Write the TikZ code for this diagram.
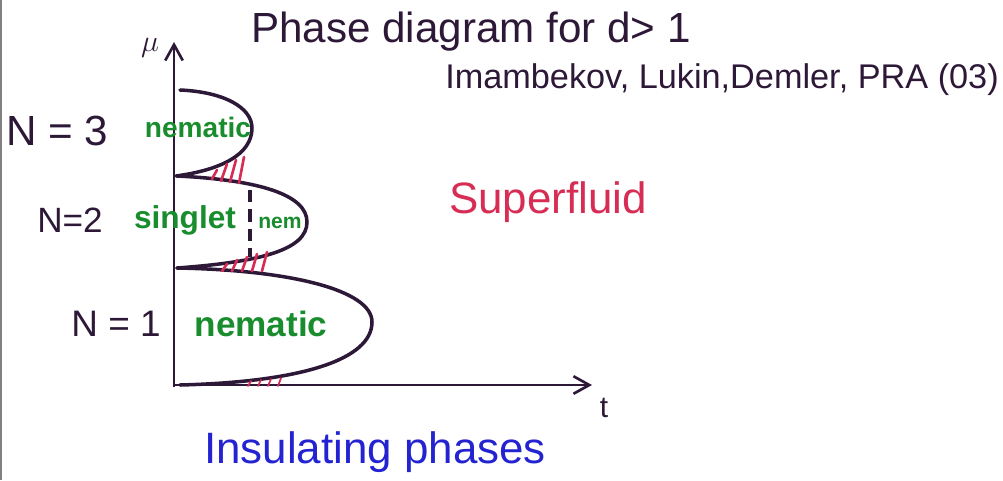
\documentclass[tikz,border=0pt]{standalone}
\usepackage{fontspec}
\setmainfont{Liberation Sans}
\usepackage{tikz}
\usetikzlibrary{arrows.meta}
\usetikzlibrary{calc}

\definecolor{inkblack}{RGB}{45,25,55}
\definecolor{inkgreen}{RGB}{25,140,45}
\definecolor{inkred}{RGB}{215,45,85}
\definecolor{inkblue}{RGB}{35,35,210}

\tikzset{
  axis/.style={draw=inkblack, line width=1.5pt, -{Straight Barb[length=9pt,width=10pt,line width=1.5pt]}},
  lobe/.style={draw=inkblack, line width=2pt, line cap=round},
  hatch/.style={draw=inkred, line width=1.5pt, line cap=round},
  phase/.style={text=inkgreen, font=\bfseries},
  label/.style={text=inkblack},
}

\begin{document}
\begin{tikzpicture}[x=0.02cm, y=-0.02cm]
\useasboundingbox (0,0) rectangle (1003,480);
\draw[gray, line width=1.2pt] (1,0) -- (1,480);

% axes
\coordinate (O) at (174,387);
\coordinate (muend) at (174,42);
\coordinate (tend) at (592,385);
\draw[axis] (O) -- (muend);
\draw[axis] (O |- tend) -- (tend);
\node[label, font=\fontsize{18}{20}\selectfont] (mu) at (150,48) {$\mu$};
\node[label, font=\fontsize{17}{20}\selectfont] (t) at (604,408) {t};

% lobes
\draw[lobe] (180,385) .. controls (300,382) and (372,360) .. (372,322)
  .. controls (372,290) and (290,270) .. (177,268);
\draw[lobe] (177,268) .. controls (260,262) and (307,250) .. (307,222)
  .. controls (307,195) and (260,180) .. (177,176);
\draw[lobe] (180,90) .. controls (225,92) and (252,108) .. (252,128)
  .. controls (252,155) and (220,170) .. (176,176);
\draw[inkblack, line width=2pt, dash pattern=on 7pt off 4pt] (250,190) -- (250,257);

% hatching
\draw[hatch] (212,179) -- (217,170);
\draw[hatch] (221,181) -- (227,164);
\draw[hatch] (230,182) -- (236,160);
\draw[hatch] (239,183) -- (244,157);
\foreach \x/\h in {222/7,232/11,242/14,252/17,262/19} {
  \draw[hatch] (\x,271) -- ++(5,-\h);
}
\foreach \x/\h in {248/5,258/6,268/7,278/8} {
  \draw[hatch, line width=1pt] (\x,386) -- ++(3,-\h);
}

% texts
\node[label, anchor=base, font=\fontsize{24}{28}\selectfont] (title) at (471,42) {Phase diagram for d> 1};
\node[label, anchor=base, font=\fontsize{19.5}{23}\selectfont] (ref) at (722,88) {Imambekov, Lukin,Demler, PRA (03)};
\node[label, anchor=base, font=\fontsize{24}{28}\selectfont] (n3) at (57,145) {N = 3};
\node[label, anchor=base, font=\fontsize{20}{24}\selectfont] (n2) at (70,232) {N=2};
\node[label, anchor=base, font=\fontsize{21}{24}\selectfont] (n1) at (116,336) {N = 1};
\node[phase, anchor=base, font=\bfseries\fontsize{16}{19}\selectfont] (nem3) at (198,137) {nematic};
\node[phase, anchor=base, font=\bfseries\fontsize{18}{21}\selectfont] (sing) at (185,228) {singlet};
\node[phase, anchor=base, font=\bfseries\fontsize{12}{14}\selectfont] (nem2) at (280,228) {nem};
\node[phase, anchor=base, font=\bfseries\fontsize{20}{24}\selectfont] (nem1) at (261,336) {nematic};
\node[text=inkred, anchor=base, font=\fontsize{25}{30}\selectfont] (sf) at (548,213) {Superfluid};
\node[text=inkblue, anchor=base, font=\fontsize{25}{30}\selectfont] (ins) at (375,463) {Insulating phases};

\end{tikzpicture}
\end{document}
